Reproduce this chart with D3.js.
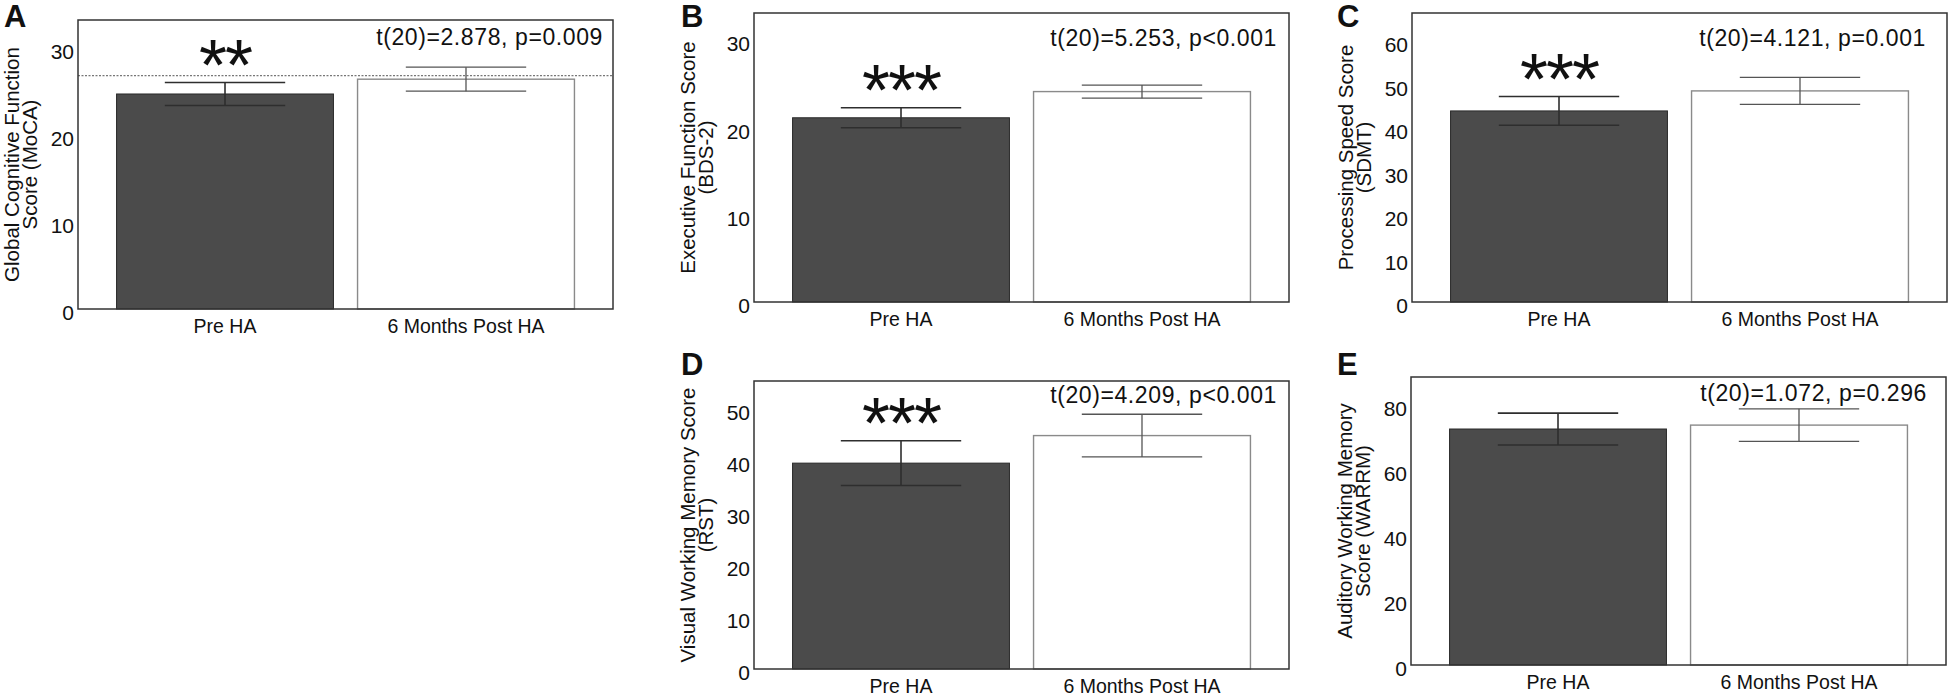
<!DOCTYPE html>
<html>
<head>
<meta charset="utf-8">
<script src="https://cdn.jsdelivr.net/npm/d3@7"></script>
<style>
  body { margin: 0; background: #fff; }
  text { font-family: "Liberation Sans", Arial, Helvetica, sans-serif; fill: #111; }
</style>
</head>
<body>
<div id="chart"></div>
<script>
// panel data
const panelIds = ["A", "B", "C", "D", "E"];
const categories = ["Pre HA", "6 Months Post HA"];
const yLabels = [
    ["Global Cognitive Function", "Score (MoCA)"],
    ["Executive Function Score", "(BDS-2)"],
    ["Processing Speed Score", "(SDMT)"],
    ["Visual Working Memory Score", "(RST)"],
    ["Auditory Working Memory", "Score (WARRM)"]
];
const yMax = [33.2, 33.1, 66.4, 55.4, 88.6];
const yTicks = [
    [0, 10, 20, 30],
    [0, 10, 20, 30],
    [0, 10, 20, 30, 40, 50, 60],
    [0, 10, 20, 30, 40, 50],
    [0, 20, 40, 60, 80]
];
const preMean  = [24.7, 21.1, 43.9, 39.6, 72.6];
const preSem   = [1.32, 1.15, 3.3, 4.3, 4.9];
const postMean = [26.4, 24.1, 48.5, 44.9, 73.8];
const postSem  = [1.38, 0.75, 3.1, 4.1, 5.0];
const statLabels = [
    "t(20)=2.878, p=0.009",
    "t(20)=5.253, p<0.001",
    "t(20)=4.121, p=0.001",
    "t(20)=4.209, p<0.001",
    "t(20)=1.072, p=0.296"
];
const sigStars = ["**", "***", "***", "***", ""];
const refLines = [26.8, null, null, null, null];   // dotted line, panel A only

// layout of each panel box on the page
const boxW = 535;
const layout = [
    {left: 78,   top: 20,  h: 289, statRight: 525, statTop: 25, letterX: 4,    letterY: 27},
    {left: 754,  top: 13,  h: 289, statRight: 523, statTop: 33, letterX: 681,  letterY: 27},
    {left: 1412, top: 13,  h: 289, statRight: 514, statTop: 33, letterX: 1337, letterY: 27},
    {left: 754,  top: 381, h: 288, statRight: 523, statTop: 22, letterX: 681,  letterY: 375},
    {left: 1411, top: 377, h: 288, statRight: 516, statTop: 24, letterX: 1337, letterY: 375}
];

const svg = d3.select("#chart")
    .append("svg")
    .attr("width", 1950)
    .attr("height", 697);

panelIds.forEach((id, i) => {
    const L = layout[i];
    const g = svg.append("g")
        .attr("transform", `translate(${L.left},${L.top})`);

    const x = d3.scaleBand()
        .domain(categories)
        .range([0, boxW])
        .paddingInner(0.1)
        .paddingOuter(0.16);

    const y = d3.scaleLinear()
        .domain([0, yMax[i]])
        .range([L.h, 0]);

    const bars = [
        {cat: categories[0], mean: preMean[i], sem: preSem[i], pre: true},
        {cat: categories[1], mean: postMean[i], sem: postSem[i], pre: false}
    ];

    // bars
    g.selectAll("rect.bar")
        .data(bars)
        .join("rect")
        .attr("class", "bar")
        .attr("x", d => x(d.cat))
        .attr("y", d => y(d.mean))
        .attr("width", x.bandwidth())
        .attr("height", d => y(0) - y(d.mean))
        .attr("fill", d => d.pre ? "#4b4b4b" : "#fff")
        .attr("stroke", d => d.pre ? "#2a2a2a" : "#8a8a8a")
        .attr("stroke-width", d => d.pre ? 1 : 1.4);

    // error bars
    const capW = x.bandwidth() * 0.555;
    const err = g.selectAll("g.err")
        .data(bars)
        .join("g")
        .attr("class", "err")
        .attr("stroke", d => d.pre ? "#2e2e2e" : "#555")
        .attr("stroke-width", d => d.pre ? 1.6 : 1.3);
    err.append("line")
        .attr("x1", d => x(d.cat) + x.bandwidth() / 2)
        .attr("x2", d => x(d.cat) + x.bandwidth() / 2)
        .attr("y1", d => y(d.mean + d.sem))
        .attr("y2", d => y(d.mean - d.sem));
    [1, -1].forEach(s => {
        err.append("line")
            .attr("x1", d => x(d.cat) + x.bandwidth() / 2 - capW / 2)
            .attr("x2", d => x(d.cat) + x.bandwidth() / 2 + capW / 2)
            .attr("y1", d => y(d.mean + s * d.sem))
            .attr("y2", d => y(d.mean + s * d.sem));
    });

    // reference line
    if (refLines[i] != null) {
        g.append("line")
            .attr("x1", 0).attr("x2", boxW)
            .attr("y1", y(refLines[i])).attr("y2", y(refLines[i]))
            .attr("stroke", "#555")
            .attr("stroke-width", 1)
            .attr("stroke-dasharray", "2,1.5");
    }

    // box
    g.append("rect")
        .attr("width", boxW)
        .attr("height", L.h)
        .attr("fill", "none")
        .attr("stroke", "#333")
        .attr("stroke-width", 1.5);

    // y axis
    const ax = g.append("g")
        .call(d3.axisLeft(y).tickValues(yTicks[i]).tickSize(0).tickPadding(4));
    ax.select(".domain").remove();
    ax.selectAll("text")
        .attr("dy", "0.52em")
        .style("font-size", "21px")
        .style("font-family", "'Liberation Sans', Arial, sans-serif")
        .attr("fill", "#111");

    // category labels
    g.selectAll("text.cat")
        .data(categories)
        .join("text")
        .attr("class", "cat")
        .attr("x", d => x(d) + x.bandwidth() / 2)
        .attr("y", L.h + 24)
        .attr("text-anchor", "middle")
        .style("font-size", "19.5px")
        .text(d => d);

    // y label
    const yl = g.append("text")
        .attr("transform", `translate(-59,${L.h / 2}) rotate(-90)`)
        .attr("text-anchor", "middle")
        .style("font-size", "20.5px");
    yLabels[i].forEach((line, k) => {
        yl.append("tspan")
            .attr("x", 0)
            .attr("y", k * 18)
            .text(line);
    });

    // stats
    g.append("text")
        .attr("x", L.statRight)
        .attr("y", L.statTop)
        .attr("text-anchor", "end")
        .style("font-size", "23px")
        .style("letter-spacing", "0.6px")
        .text(statLabels[i]);

    // significance stars
    if (sigStars[i]) {
        g.append("text")
            .attr("x", x(categories[0]) + x.bandwidth() / 2)
            .attr("y", y(preMean[i] + preSem[i]) + 7)
            .attr("text-anchor", "middle")
            .style("font-size", "72px")
            .style("letter-spacing", "-2px")
            .text(sigStars[i]);
    }

    // panel letter
    svg.append("text")
        .attr("x", L.letterX)
        .attr("y", L.letterY)
        .style("font-size", "31px")
        .style("font-weight", "bold")
        .attr("fill", "#000")
        .text(id);
});
</script>
</body>
</html>
